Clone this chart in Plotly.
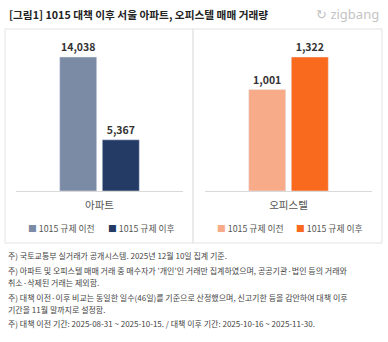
import plotly.graph_objects as go

title = "[그림1] 1015 대책 이후 서울 아파트, 오피스텔 매매 거래량"
series_names = ["1015 규제 이전", "1015 규제 이후"]
apt_category = ["아파트"]
apt_values = [14038, 5367]
off_category = ["오피스텔"]
off_values = [1001, 1322]
apt_colors = ["#7b8aa5", "#243b65"]
off_colors = ["#f8ab88", "#fa6a1e"]
notes = [
    "주) 국토교통부 실거래가 공개시스템. 2025년 12월 10일 집계 기준.",
    "주) 아파트 및 오피스텔 매매 거래 중 매수자가 '개인'인 거래만 집계하였으며, 공공기관·법인 등의 거래와",
    "취소·삭제된 거래는 제외함.",
    "주) 대책 이전·이후 비교는 동일한 일수(46일)를 기준으로 산정했으며, 신고기한 등을 감안하여 대책 이후",
    "기간을 11월 말까지로 설정함.",
    "주) 대책 이전 기간: 2025-08-31 ~ 2025-10-15. / 대책 이후 기간: 2025-10-16 ~ 2025-11-30.",
]
note_y = [255, 270, 282, 297, 309, 323]

W, H = 388, 342
FONT = "Noto Sans CJK KR"

def px(x):
    return x / W

def py(y):
    return 1 - y / H

fig = go.Figure()
for i in range(2):
    fig.add_trace(go.Bar(
        x=apt_category, y=[apt_values[i]], name=series_names[i],
        marker_color=apt_colors[i], xaxis="x", yaxis="y",
        texttemplate="%{y:,}", textposition="outside",
        textfont=dict(size=10.5, color="#333333", family=FONT, weight="bold"),
        cliponaxis=False, showlegend=False,
    ))
for i in range(2):
    fig.add_trace(go.Bar(
        x=off_category, y=[off_values[i]], name=series_names[i],
        marker_color=off_colors[i], xaxis="x2", yaxis="y2",
        texttemplate="%{y:,}", textposition="outside",
        textfont=dict(size=10.5, color="#333333", family=FONT, weight="bold"),
        cliponaxis=False, showlegend=False,
    ))

top_px, base_px, bar_top_px = 40, 191, 57
k = (base_px - top_px) / (base_px - bar_top_px)

axis_common = dict(showgrid=False, zeroline=False, fixedrange=True)
fig.update_layout(
    width=W, height=H,
    margin=dict(l=0, r=0, t=0, b=0),
    paper_bgcolor="white", plot_bgcolor="white",
    barmode="group", bargap=0.49, bargroupgap=0.13,
    font=dict(family=FONT, color="#555555"),
    xaxis=dict(domain=[px(16), px(183)], anchor="y", showline=True,
               linecolor="#d9d9d9", linewidth=1, ticks="", ticklabelstandoff=4,
               tickfont=dict(size=10.5, color="#555555"), **axis_common),
    yaxis=dict(domain=[py(base_px), py(top_px)], range=[0, max(apt_values) * k],
               visible=False, **axis_common),
    xaxis2=dict(domain=[px(205), px(372)], anchor="y2", showline=True,
                linecolor="#d9d9d9", linewidth=1, ticks="", ticklabelstandoff=4,
                tickfont=dict(size=10.5, color="#555555"), **axis_common),
    yaxis2=dict(domain=[py(base_px), py(top_px)], range=[0, max(off_values) * k],
                visible=False, **axis_common),
)

shapes = []
for x0, x1 in [(5, 193), (193, 382)]:
    shapes.append(dict(type="rect", xref="paper", yref="paper",
                       x0=px(x0), x1=px(x1), y0=py(243), y1=py(29),
                       line=dict(color="#e3e3e3", width=1), fillcolor="rgba(0,0,0,0)"))
fig.update_layout(shapes=shapes)

ann = []
ann.append(dict(text=title, x=px(7), y=py(14), xref="paper", yref="paper",
                xanchor="left", yanchor="middle", showarrow=False,
                font=dict(size=10.7, color="#222222", family=FONT, weight="bold")))
ann.append(dict(text="↻ zigbang", x=px(381), y=py(14), xref="paper", yref="paper",
                xanchor="right", yanchor="middle", showarrow=False,
                font=dict(size=13, color="#c4c4c4", family="Noto Sans")))
legend_pos = [(26, 106), (215, 294)]
for (lx, colors) in zip(legend_pos, [apt_colors, off_colors]):
    for j in range(2):
        ann.append(dict(
            text=f'<span style="color:{colors[j]}">■</span> {series_names[j]}',
            x=px(lx[j]), y=py(228), xref="paper", yref="paper",
            xanchor="left", yanchor="middle", showarrow=False,
            font=dict(size=8.8, color="#555555", family=FONT)))
for t, y in zip(notes, note_y):
    ann.append(dict(text=t, x=px(6), y=py(y), xref="paper", yref="paper",
                    xanchor="left", yanchor="middle", showarrow=False,
                    font=dict(size=8, color="#444444", family=FONT)))
fig.update_layout(annotations=ann)

fig.write_html("out.html")
